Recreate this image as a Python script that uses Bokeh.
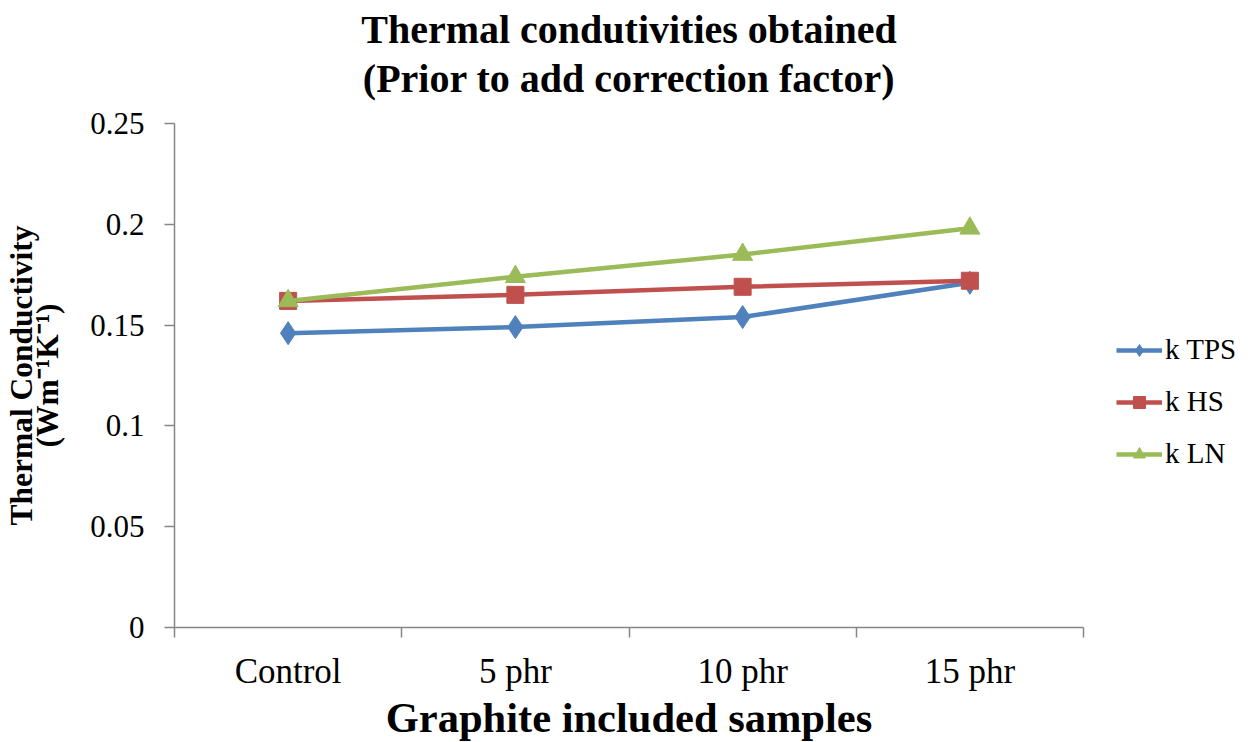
from bokeh.plotting import figure
from bokeh.models import Range1d, FixedTicker, Legend, LegendItem, Title
from bokeh.embed import file_html
from bokeh.resources import INLINE

categories = ["Control", "5 phr", "10 phr", "15 phr"]
k_tps = [0.146, 0.149, 0.154, 0.171]
k_hs = [0.162, 0.165, 0.169, 0.172]
k_ln = [0.162, 0.174, 0.185, 0.198]
y_ticks = [0, 0.05, 0.1, 0.15, 0.2, 0.25]
y_tick_labels = ["0", "0.05", "0.1", "0.15", "0.2", "0.25"]
series_names = ["k TPS", "k HS", "k LN"]
title_lines = ["Thermal condutivities obtained", "(Prior to add correction factor)"]

FONT = "Liberation Serif"
AXIS_COLOR = "#868686"

x_pos = [i + 0.5 for i in range(len(categories))]
boundaries = list(range(len(categories) + 1))

p = figure(frame_width=909, frame_height=504, output_backend="svg", toolbar_location=None,
           x_range=Range1d(0, len(categories)), y_range=Range1d(y_ticks[0], y_ticks[-1]),
           min_border_left=168, min_border_right=165, min_border_top=123, min_border_bottom=100)
p.outline_line_color = None
p.xgrid.visible = False
p.ygrid.visible = False
p.background_fill_color = "white"
p.border_fill_color = "white"

# x axis
xa = p.xaxis[0]
xa.ticker = FixedTicker(ticks=x_pos, minor_ticks=boundaries)
xa.major_label_overrides = {x: c for x, c in zip(x_pos, categories)}
xa.major_tick_out = 0
xa.major_tick_in = 0
xa.minor_tick_out = 10
xa.minor_tick_in = 0
xa.minor_tick_line_color = AXIS_COLOR
xa.axis_line_color = AXIS_COLOR
xa.axis_line_width = 1.5
xa.minor_tick_line_width = 1.5
xa.major_label_text_font = FONT
xa.major_label_text_font_size = "35px"
xa.major_label_text_color = "black"
xa.major_label_standoff = 14
xa.axis_label = "Graphite included samples"
xa.axis_label_text_font = FONT
xa.axis_label_text_font_size = "42.5px"
xa.axis_label_text_font_style = "bold"
xa.axis_label_text_color = "black"
xa.axis_label_standoff = 0

# y axis
ya = p.yaxis[0]
ya.ticker = FixedTicker(ticks=y_ticks, minor_ticks=[])
ya.major_label_overrides = {t: l for t, l in zip(y_ticks, y_tick_labels)}
ya.major_tick_out = 10
ya.major_tick_in = 0
ya.major_tick_line_color = AXIS_COLOR
ya.major_tick_line_width = 1.5
ya.axis_line_color = AXIS_COLOR
ya.axis_line_width = 1.5
ya.major_label_text_font = FONT
ya.major_label_text_font_size = "31px"
ya.major_label_text_color = "black"
ya.major_label_standoff = 20
ya.axis_label = "Thermal Conductivity\n(Wm\u207b\u00b9K\u207b\u00b9)"
ya.axis_label_text_font = FONT
ya.axis_label_text_font_size = "31.5px"
ya.axis_label_text_font_style = "bold"
ya.axis_label_text_color = "black"
ya.axis_label_text_line_height = 0.75
ya.axis_label_standoff = 22

# titles (spacer nearest the frame, then line 2, then line 1)
p.add_layout(Title(text="\u00a0", align="center", text_font=FONT, text_font_size="17px",
                   standoff=0), "above")
p.add_layout(Title(text=title_lines[1], align="center",
                   text_font=FONT, text_font_size="40px", text_font_style="bold",
                   text_color="black", standoff=4), "above")
p.add_layout(Title(text=title_lines[0], align="center",
                   text_font=FONT, text_font_size="40px", text_font_style="bold",
                   text_color="black", standoff=0), "above")

colors = ["#4F81BD", "#C0504D", "#9BBB59"]
items = []
l1 = p.line(x_pos, k_tps, line_color=colors[0], line_width=4.5)
m1 = p.scatter(x_pos, k_tps, marker="diamond", size=23, fill_color=colors[0], line_color=colors[0])
items.append(LegendItem(label=series_names[0], renderers=[l1, m1]))
l2 = p.line(x_pos, k_hs, line_color=colors[1], line_width=4.5)
m2 = p.scatter(x_pos, k_hs, marker="square", size=17, fill_color=colors[1], line_color=colors[1])
items.append(LegendItem(label=series_names[1], renderers=[l2, m2]))
l3 = p.line(x_pos, k_ln, line_color=colors[2], line_width=4.5)
m3 = p.scatter(x_pos, k_ln, marker="triangle", size=20, fill_color=colors[2], line_color=colors[2])
items.append(LegendItem(label=series_names[2], renderers=[l3, m3]))

legend = Legend(items=items, location=(33, 157), orientation="vertical",
                label_text_font=FONT, label_text_font_size="29px", label_text_color="black",
                glyph_width=46, glyph_height=30, label_height=30, spacing=19,
                label_standoff=3, padding=0, margin=0,
                border_line_color=None, background_fill_alpha=0)
p.add_layout(legend, "right")

open("out.html", "w").write(file_html(p, INLINE))
